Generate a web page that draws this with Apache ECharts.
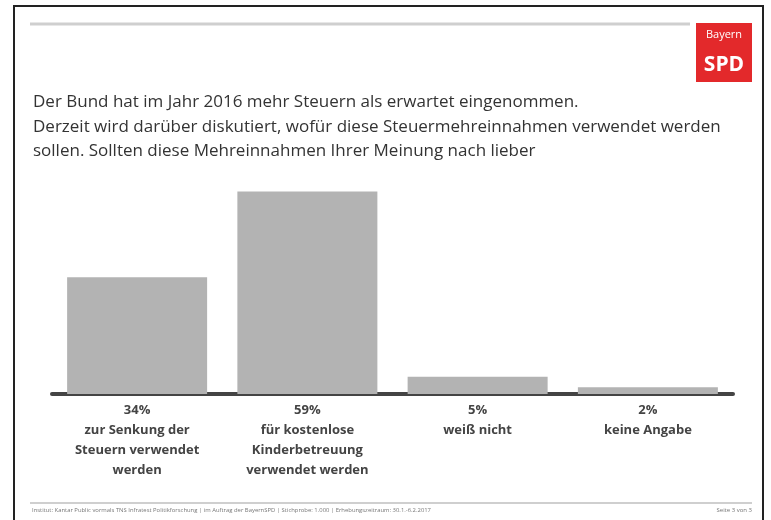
<!DOCTYPE html>
<html><head><meta charset="utf-8">
<script src="https://cdn.jsdelivr.net/npm/echarts@6/dist/echarts.min.js"></script>
<style>html,body{margin:0;padding:0;background:#fff}#c{width:771px;height:520px}</style>
</head><body><div id="c"></div>
<script>
const percentLabels = ['34%', '59%', '5%', '2%'];
const categories = ['zur Senkung der\nSteuern verwendet\nwerden', 'für kostenlose\nKinderbetreuung\nverwendet werden', 'weiß nicht', 'keine Angabe'];
const values = [34, 59, 5, 2];
const titleLines = 'Der Bund hat im Jahr 2016 mehr Steuern als erwartet eingenommen.\nDerzeit wird darüber diskutiert, wofür diese Steuermehreinnahmen verwendet werden\nsollen. Sollten diese Mehreinnahmen Ihrer Meinung nach lieber';
const footerText = 'Institut: Kantar Public vormals TNS Infratest Politikforschung | im Auftrag der BayernSPD | Stichprobe: 1.000 | Erhebungszeitraum: 30.1.-6.2.2017';
const pageText = 'Seite 3 von 3';

const font = '"Open Sans", "Noto Sans", sans-serif';
const chart = echarts.init(document.getElementById('c'));
chart.setOption({
  backgroundColor: '#fff',
  animation: false,
  grid: { left: 52, right: 38, top: 188, bottom: 126, containLabel: false },
  xAxis: {
    type: 'category',
    data: categories.map((c, i) => percentLabels[i] + '\n' + c),
    axisLine: { show: true, lineStyle: { color: '#444', width: 4 } },
    axisTick: { show: false },
    axisLabel: { interval: 0, margin: 6, color: '#444', fontFamily: font, fontWeight: 'bold', fontSize: 13, lineHeight: 20, align: 'center' }
  },
  yAxis: { type: 'value', min: 0, max: 60, show: false, splitLine: { show: false } },
  series: [{
    type: 'bar', data: values, barWidth: 140,
    itemStyle: { color: '#b3b3b3' }, z: 1
  }],
  graphic: [
    { type: 'rect', shape: { x: 14, y: 6, width: 749, height: 520 }, style: { fill: 'none', stroke: '#222', lineWidth: 2 }, silent: true },
    { type: 'line', shape: { x1: 30, y1: 24, x2: 690, y2: 24 }, style: { stroke: '#cfcfcf', lineWidth: 3 } },
    { type: 'rect', shape: { x: 696, y: 23, width: 56, height: 59 }, style: { fill: '#e3292b' } },
    { type: 'text', x: 724, y: 29, style: { text: 'Bayern', fill: '#fff', font: '11px ' + font, textAlign: 'center' } },
    { type: 'text', x: 724, y: 55, style: { text: 'SPD', fill: '#fff', font: 'bold 21px ' + font, textAlign: 'center' } },
    { type: 'text', x: 33, y: 90, style: { text: titleLines, fill: '#333', font: '17px ' + font, lineHeight: 24.5 } },
    { type: 'line', shape: { x1: 30, y1: 503, x2: 752, y2: 503 }, style: { stroke: '#cfcfcf', lineWidth: 2 } },
    { type: 'text', x: 32, y: 507, style: { text: footerText, fill: '#777', font: '5.9px ' + font } },
    { type: 'text', x: 752, y: 507, style: { text: pageText, fill: '#777', font: '6px ' + font, textAlign: 'right' } }
  ]
});
</script></body></html>
